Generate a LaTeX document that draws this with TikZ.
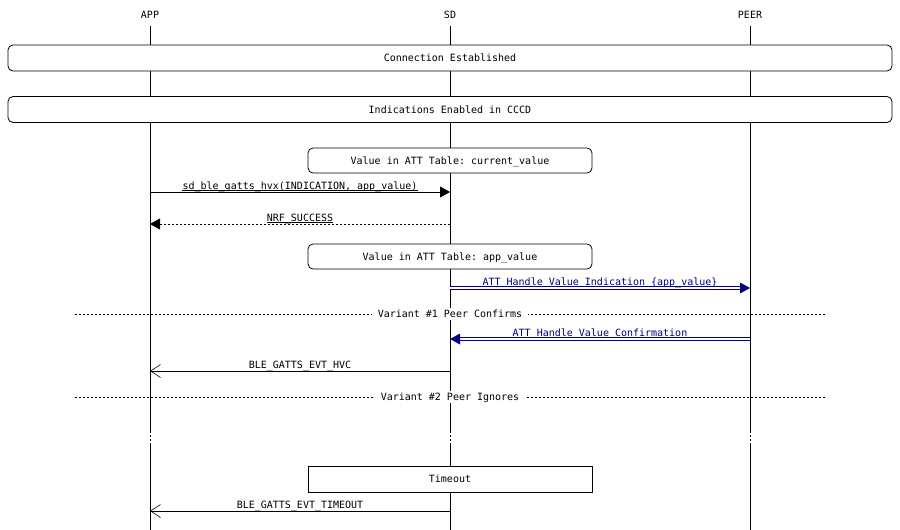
\documentclass[tikz,border=0pt]{standalone}
\usepackage{fontspec}
\setmonofont{DejaVu Sans Mono}
\usetikzlibrary{arrows.meta}
\definecolor{linkblue}{RGB}{0,0,128}
\begin{document}
\begin{tikzpicture}[x=1pt,y=-1pt,
  every node/.style={font=\ttfamily\fontsize{10}{12}\selectfont},
  hdr/.style={inner sep=0pt, text height=7.3pt, text depth=0pt},
  lifeline/.style={line width=0.8pt},
  gapline/.style={line width=0.8pt, dash pattern=on 2pt off 2pt},
  rbox/.style={draw, line width=0.8pt, rounded corners=5pt, fill=white, minimum height=26pt, inner sep=0pt, text height=7.3pt, text depth=0pt},
  sbox/.style={draw, line width=0.8pt, fill=white, minimum height=26pt, inner sep=0pt, text height=7.3pt, text depth=0pt},
  lbl/.style={anchor=base, inner sep=0pt},
  blbl/.style={lbl, text=linkblue},
  uline/.style={line width=0.6pt},
  solidmsg/.style={line width=0.8pt, -{Triangle[length=10pt,width=11pt]}},
  retmsg/.style={line width=0.8pt, dash pattern=on 2pt off 2pt, -{Triangle[length=10pt,width=11pt]}},
  openmsg/.style={line width=0.8pt, -{Straight Barb[length=10pt,width=13pt,line width=0.6pt]}},
  dblmsg/.style={draw=linkblue, line width=0.8pt, double=white, double distance=1.8pt},
  bluetip/.style={fill=linkblue},
  divider/.style={line width=0.8pt, dash pattern=on 2pt off 2pt},
  divlbl/.style={fill=white, inner xsep=6pt, inner ysep=2pt, text height=7.3pt, text depth=0pt}
]
\useasboundingbox (0,0) rectangle (900,530);

% headers
\node[hdr] (app) at (150,15) {APP};
\node[hdr] (sd) at (450,15) {SD};
\node[hdr] (peer) at (750,15) {PEER};

% lifelines
\foreach \n/\x in {app/150, sd/450, peer/750}{
  \coordinate (\n Top) at (\x,26);
  \coordinate (\n GapA) at (\x,431);
  \coordinate (\n GapB) at (\x,445);
  \coordinate (\n End) at (\x,530);
  \draw[lifeline] (\n Top) -- (\n GapA);
  \draw[gapline] (\n GapA) -- (\n GapB);
  \draw[lifeline] (\n GapB) -- (\n End);
}

% boxes
\node[rbox, minimum width=884pt] (conn) at (450,58) {Connection Established};
\node[rbox, minimum width=884pt] (ind) at (450,109.5) {Indications Enabled in CCCD};
\node[rbox, minimum width=284pt, minimum height=25pt] (val1) at (450,160.5) {Value in ATT Table: current\_value};
\node[rbox, minimum width=284pt, minimum height=25pt] (val2) at (450,256.5) {Value in ATT Table: app\_value};
\node[sbox, minimum width=284pt] (tout) at (450,479) {Timeout};

% message 1: APP -> SD
\coordinate (m1a) at (150,192);
\coordinate (m1b) at (450,192);
\draw[solidmsg] (m1a) -- (m1b);
\node[lbl] (l1) at (300,189) {sd\_ble\_gatts\_hvx(INDICATION, app\_value)};
\draw[uline] ([yshift=-0.8pt]l1.base west) -- ([yshift=-0.8pt]l1.base east);

% message 2: SD -> APP (return)
\coordinate (m2a) at (450,224);
\coordinate (m2b) at (150,224);
\draw[retmsg] (m2a) -- (m2b);
\node[lbl] (l2) at (300,221) {NRF\_SUCCESS};
\draw[uline] ([yshift=-0.8pt]l2.base west) -- ([yshift=-0.8pt]l2.base east);

% message 3: SD -> PEER (blue double)
\coordinate (m3a) at (450,288);
\coordinate (m3b) at (750,288);
\coordinate (m3c) at (741,288);
\draw[dblmsg] (m3a) -- (m3c);
\fill[bluetip] (m3b) -- ++(-10,-5.5) -- ++(0,11) -- cycle;
\node[blbl] (l3) at (600,285.5) {ATT Handle Value Indication \{app\_value\}};
\draw[uline, linkblue] ([yshift=-0.8pt]l3.base west) -- ([yshift=-0.8pt]l3.base east);

% divider 1
\coordinate (d1a) at (75,314);
\coordinate (d1b) at (825,314);
\draw[divider] (d1a) -- (d1b);
\node[divlbl] (dv1) at (450,314) {Variant \#1 Peer Confirms};

% message 4: PEER -> SD (blue double)
\coordinate (m4a) at (750,339);
\coordinate (m4b) at (450,339);
\coordinate (m4c) at (459,339);
\draw[dblmsg] (m4a) -- (m4c);
\fill[bluetip] (m4b) -- ++(10,-5.5) -- ++(0,11) -- cycle;
\node[blbl] (l4) at (600,336.5) {ATT Handle Value Confirmation};
\draw[uline, linkblue] ([yshift=-0.8pt]l4.base west) -- ([yshift=-0.8pt]l4.base east);

% message 5: SD -> APP
\coordinate (m5a) at (450,371);
\coordinate (m5b) at (150,371);
\draw[openmsg] (m5a) -- (m5b);
\node[lbl] (l5) at (300,368.5) {BLE\_GATTS\_EVT\_HVC};

% divider 2
\coordinate (d2a) at (75,397);
\coordinate (d2b) at (825,397);
\draw[divider] (d2a) -- (d2b);
\node[divlbl] (dv2) at (450,397) {Variant \#2 Peer Ignores};

% message 6: SD -> APP
\coordinate (m6a) at (450,511);
\coordinate (m6b) at (150,511);
\draw[openmsg] (m6a) -- (m6b);
\node[lbl] (l6) at (300,508.5) {BLE\_GATTS\_EVT\_TIMEOUT};
\end{tikzpicture}
\end{document}
